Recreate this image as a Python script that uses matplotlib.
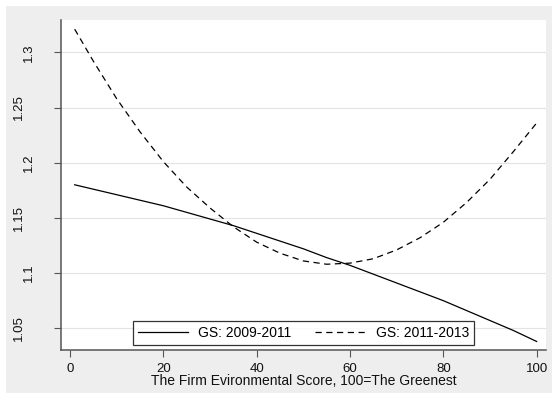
import matplotlib
matplotlib.use("Agg")
import matplotlib.pyplot as plt
from matplotlib.patches import Rectangle

plt.rcParams['font.family'] = ['Liberation Sans', 'DejaVu Sans']

# greenness score and predicted values
score = [1, 5, 10, 15, 20, 25, 30, 35, 40, 45, 50,
         55, 60, 65, 70, 75, 80, 85, 90, 95, 100]
gs_0911 = [1.180, 1.176, 1.171, 1.166, 1.161, 1.155, 1.149, 1.143, 1.136, 1.129, 1.122,
           1.114, 1.107, 1.099, 1.091, 1.083, 1.075, 1.066, 1.057, 1.048, 1.038]
gs_1113 = [1.321, 1.292, 1.258, 1.228, 1.201, 1.178, 1.159, 1.142, 1.128, 1.118, 1.111,
           1.108, 1.109, 1.113, 1.121, 1.132, 1.146, 1.164, 1.185, 1.210, 1.236]

xticks = [0, 20, 40, 60, 80, 100]
yticks = [1.05, 1.1, 1.15, 1.2, 1.25, 1.3]
ytick_labels = ['1.05', '1.1', '1.15', '1.2', '1.25', '1.3']

fig = plt.figure(figsize=(5.52, 4.03), dpi=100)
fig.patch.set_facecolor('white')
# grey outer region
fig.patches.append(Rectangle((6 / 552, 10 / 403), 546 / 552, 387 / 403,
                             transform=fig.transFigure, facecolor='#eeeeee',
                             edgecolor='none', zorder=-5))

ax = fig.add_axes([61 / 552, 53 / 403, 485 / 552, 330 / 403])
ax.set_facecolor('white')

ax.plot(score, gs_0911, color='black', lw=0.9, label='GS: 2009-2011')
ax.plot(score, gs_1113, color='black', lw=0.9, dashes=(5, 3.6), label='GS: 2011-2013')

ax.set_xlim(-1.93, 102.0)
ax.set_ylim(1.0303, 1.3293)
ax.set_xticks(xticks)
ax.set_yticks(yticks)
ax.set_yticklabels(ytick_labels, rotation=90, va='center')
ax.grid(axis='y', color='#e3e3e3', lw=0.8)
ax.set_axisbelow(True)

for s in ['top', 'right']:
    ax.spines[s].set_visible(False)
for s in ['left', 'bottom']:
    ax.spines[s].set_color('#555555')
    ax.spines[s].set_linewidth(1.1)

ax.tick_params(axis='both', length=4.8, width=0.8, color='#555555',
               labelsize=9.5, labelcolor='#111111')
ax.tick_params(axis='x', pad=4.5)
# alternating y labels like the original
for i, t in enumerate(ax.yaxis.get_major_ticks()):
    t.set_pad(21 if i % 2 == 0 else 14)

ax.set_xlabel('The Firm Evironmental Score, 100=The Greenest', fontsize=10,
              labelpad=-1, color='#111111')

leg = ax.legend(loc='lower center', bbox_to_anchor=(0.5, 0.015), ncol=2,
                fontsize=10, frameon=True, fancybox=False, handlelength=3.6,
                handletextpad=0.75, columnspacing=1.7, borderpad=0.35,
                borderaxespad=0)
leg.get_frame().set_edgecolor('black')
leg.get_frame().set_linewidth(0.9)

fig.savefig('out.png', dpi=100)
